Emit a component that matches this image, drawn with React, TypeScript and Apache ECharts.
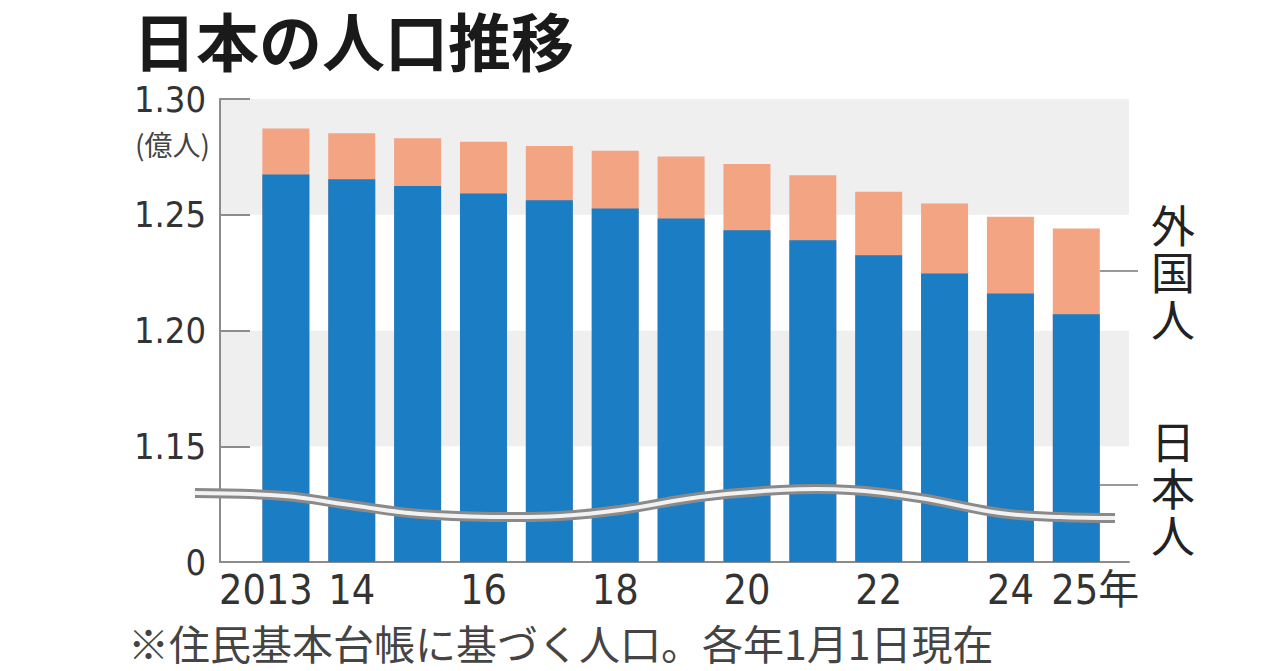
import { useEffect, useRef } from "react";
import * as echarts from "echarts";

// 住民基本台帳ベース（億人）
const years = [2013, 2014, 2015, 2016, 2017, 2018, 2019, 2020, 2021, 2022, 2023, 2024, 2025];
const japanese = [1.2674, 1.2653, 1.2624, 1.2592, 1.2563, 1.2527, 1.2484, 1.2433, 1.239, 1.2325, 1.2246, 1.216, 1.207];
const foreign = [0.0199, 0.0199, 0.0206, 0.0223, 0.0234, 0.0249, 0.0268, 0.0286, 0.0281, 0.0274, 0.0303, 0.0331, 0.0371];

const xTickYears = [2013, 2014, 2016, 2018, 2020, 2022, 2024, 2025];
const xTickLabels = ["2013", "14", "16", "18", "20", "22", "24", "25年"];

const yTickLabels: Record<string, string> = {
  "1.10": "0",
  "1.15": "1.15",
  "1.20": "1.20",
  "1.25": "1.25",
  "1.30": "1.30",
};

const BLUE = "#1b7dc4";
const ORANGE = "#f3a483";
const AXIS = "#8c8c8c";
const NUM_FONT = "'Liberation Sans Narrow', 'DejaVu Sans Condensed', 'Noto Sans', 'Noto Sans CJK JP', sans-serif";
const JP_FONT = "'Noto Sans CJK JP', 'Noto Sans', sans-serif";

// 省略記号（波線）の通り道
const breakPts = [
  [195, 493], [285, 496], [350, 505], [420, 514], [500, 517], [560, 516], [620, 510],
  [700, 497], [780, 490], [850, 490], [920, 498], [1000, 513], [1060, 517], [1115, 518],
];

// x軸が数値軸なのでスタックは使わず、合計（橙）の上に日本人（青）を重ねる
const totals = japanese.map((v, i) => v + foreign[i]);

function vertical(chars: string, x: number, cy: number) {
  const step = 47;
  const n = chars.length;
  return chars.split("").map((c, i) => ({
    type: "text",
    x,
    y: cy + (i - (n - 1) / 2) * step,
    style: {
      text: c,
      font: `44px ${JP_FONT}`,
      lineHeight: 44,
      fill: "#222",
      align: "center",
      verticalAlign: "middle",
    },
  }));
}

export default function App() {
  const ref = useRef<HTMLDivElement>(null);

  useEffect(() => {
    if (!ref.current) return;
    const chart = echarts.init(ref.current, undefined, { renderer: "svg" });

    chart.setOption({
      animation: false,
      backgroundColor: "#fff",
      grid: { left: 220, right: 151, top: 99, bottom: 109, containLabel: false },
      xAxis: {
        type: "value",
        min: 2012,
        max: 2025.8,
        interval: 1,
        splitLine: { show: false },
        axisTick: { show: false },
        axisLine: { show: true, lineStyle: { color: AXIS, width: 2 } },
        axisLabel: {
          showMaxLabel: false,
          margin: 7,
          color: "#333",
          fontFamily: NUM_FONT,
          fontSize: 41,
          formatter: (v: number) => {
            const i = xTickYears.indexOf(Math.round(v));
            if (i < 0 || Math.abs(v - Math.round(v)) > 1e-6) return "";
            const s = xTickLabels[i];
            if (i === 0) return `{t|${s}}{p|\u00a0}`;
            if (i === xTickLabels.length - 1) return `{q|\u00a0}{t|${s}}`;
            return `{t|${s}}`;
          },
          rich: {
            t: { fontFamily: NUM_FONT, fontSize: 41, color: "#333" },
            p: { width: 40 },
            q: { width: 38 },
          },
        },
      },
      yAxis: {
        type: "value",
        min: 1.1,
        max: 1.3,
        interval: 0.05,
        splitLine: { show: false },
        splitArea: { show: true, areaStyle: { color: ["#ffffff", "#efefef"] } },
        axisLine: { show: true, lineStyle: { color: AXIS, width: 2 } },
        axisTick: { show: true, inside: true, length: 30, lineStyle: { color: AXIS, width: 2 } },
        axisLabel: {
          margin: 14,
          color: "#333",
          fontFamily: NUM_FONT,
          fontSize: 36,
          formatter: (v: number) => yTickLabels[v.toFixed(2)] ?? "",
        },
      },
      series: [
        {
          name: "外国人",
          type: "bar",
          barWidth: 47,
          barGap: "-100%",
          clip: true,
          z: 2,
          itemStyle: { color: ORANGE },
          data: years.map((y, i) => [y, totals[i]]),
        },
        {
          name: "日本人",
          type: "bar",
          barWidth: 47,
          barGap: "-100%",
          clip: true,
          z: 3,
          itemStyle: { color: BLUE },
          data: years.map((y, i) => [y, japanese[i]]),
        },
      ],
      graphic: [
        {
          type: "text",
          x: 133,
          y: 38,
          style: {
            text: "日本の人口推移",
            font: `bold 63px ${JP_FONT}`,
            lineHeight: 63,
            fill: "#1a1a1a",
            verticalAlign: "middle",
          },
        },
        {
          type: "text",
          x: 210,
          y: 144,
          style: { text: "(億人)", font: `28px ${JP_FONT}`, fill: "#444", align: "right", verticalAlign: "middle" },
        },
        {
          type: "polyline",
          z: 100,
          shape: { points: breakPts, smooth: 0.4 },
          style: { stroke: "#8a8a8a", lineWidth: 10, fill: "none" },
        },
        {
          type: "polyline",
          z: 101,
          shape: { points: breakPts, smooth: 0.4 },
          style: { stroke: "#f2f2f2", lineWidth: 4, fill: "none" },
        },
        {
          type: "line",
          z: 100,
          shape: { x1: 1100, y1: 271, x2: 1138, y2: 271 },
          style: { stroke: "#999", lineWidth: 2 },
        },
        {
          type: "line",
          z: 100,
          shape: { x1: 1100, y1: 485, x2: 1138, y2: 485 },
          style: { stroke: "#999", lineWidth: 2 },
        },
        ...vertical("外国人", 1173, 271),
        ...vertical("日本人", 1173, 487),
        {
          type: "text",
          x: 128,
          y: 642,
          style: {
            text: "※住民基本台帳に基づく人口。各年1月1日現在",
            font: `41px ${JP_FONT}`,
            fill: "#444",
            verticalAlign: "middle",
          },
        },
      ],
    });

    return () => chart.dispose();
  }, []);

  return <div ref={ref} style={{ position: "absolute", left: 0, top: 0, width: 1280, height: 671 }} />;
}
